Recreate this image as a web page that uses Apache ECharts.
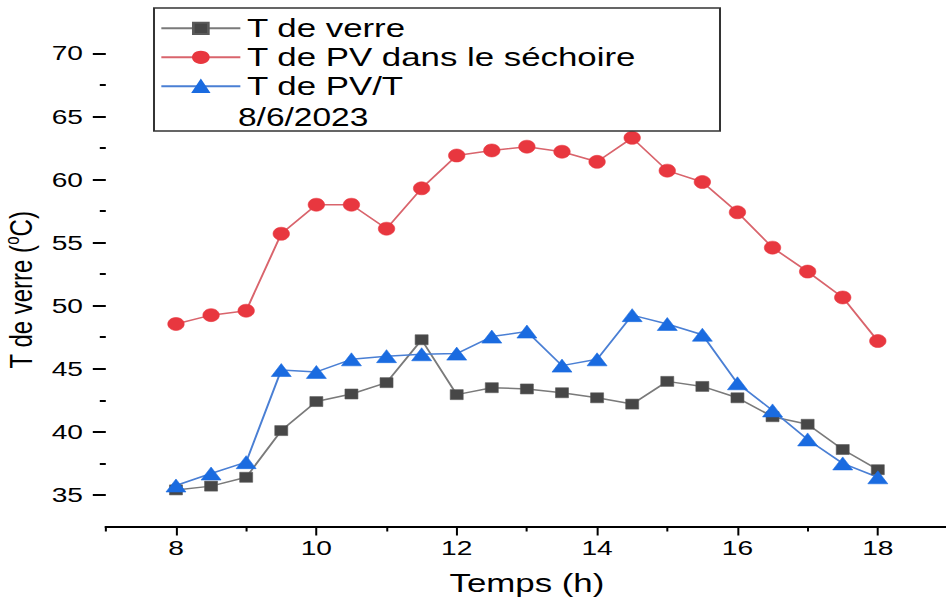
<!DOCTYPE html>
<html>
<head>
<meta charset="utf-8">
<script src="https://cdn.jsdelivr.net/npm/echarts@6/dist/echarts.min.js"></script>
<style>
html,body{margin:0;padding:0;background:#fff;}
#wrap{width:946px;height:603px;overflow:hidden;position:relative;}
#c{height:603px;transform-origin:0 0;position:absolute;left:0;top:0;}
</style>
</head>
<body>
<div id="wrap"><div id="c"></div></div>
<script>
// ---- data ----
const hours = [8, 8.5, 9, 9.5, 10, 10.5, 11, 11.5, 12, 12.5, 13, 13.5, 14, 14.5, 15, 15.5, 16, 16.5, 17, 17.5, 18];
const tVerre = [35.4, 35.7, 36.4, 40.1, 42.4, 43.0, 43.9, 47.3, 42.95, 43.5, 43.4, 43.1, 42.7, 42.2, 44.0, 43.6, 42.7, 41.2, 40.6, 38.6, 37.0];
const tPV = [48.55, 49.25, 49.6, 55.7, 58.0, 58.0, 56.1, 59.3, 61.9, 62.3, 62.6, 62.2, 61.4, 63.3, 60.7, 59.8, 57.4, 54.6, 52.7, 50.65, 47.2];
const tPVT = [35.75, 36.7, 37.6, 44.9, 44.75, 45.75, 46.0, 46.15, 46.2, 47.55, 47.95, 45.25, 45.75, 49.25, 48.55, 47.7, 43.85, 41.7, 39.4, 37.5, 36.4];
const seriesNames = ['T de verre', 'T de PV dans le séchoire', 'T de PV/T'];
const dateLabel = '8/6/2023';
const xMajor = [8, 10, 12, 14, 16, 18];
const xMinor = [7, 9, 11, 13, 15, 17, 19];
const yMajor = [35, 40, 45, 50, 55, 60, 65, 70];
const yMinor = [37.5, 42.5, 47.5, 52.5, 57.5, 62.5, 67.5];

// ---- layout (horizontal stretch like the reference) ----
const S = 1.34;
const W = 946 / S;
const el = document.getElementById('c');
el.style.width = W + 'px';
el.style.transform = 'scaleX(' + S + ')';
const FF = 'Liberation Sans, Arial, sans-serif';

const chart = echarts.init(el, null, {renderer: 'svg', width: W, height: 603});

function pairs(ys) { return hours.map((h, i) => [h, ys[i]]); }

const option = {
  animation: false,
  backgroundColor: '#fff',
  grid: {left: 105.8 / S, width: 842.2 / S, top: 53.3, height: 473.2, containLabel: false, outerBoundsMode: 'none'},
  legend: {
    orient: 'vertical',
    left: 160 / S,
    top: 13.8,
    padding: 0,
    itemGap: 0,
    itemWidth: 79 / S,
    itemHeight: 14,
    data: seriesNames,
    textStyle: {fontFamily: FF, fontSize: 26, color: '#000', lineHeight: 29}
  },
  graphic: [
    {type: 'rect', z: 100, shape: {x: 154 / S, y: 8, width: (720 - 154) / S, height: 123},
     style: {fill: 'none', stroke: '#333', lineWidth: 1.5}},
    {type: 'text', z: 100, style: {text: dateLabel, x: 238 / S, y: 117, fontFamily: FF, fontSize: 25, fill: '#000', verticalAlign: 'middle'}}
  ],
  xAxis: [
    {
      type: 'value', min: 7, max: 19, position: 'bottom',
      axisLine: {show: true, lineStyle: {color: '#000', width: 2}},
      axisTick: {show: true, length: 9, customValues: xMajor, lineStyle: {color: '#000', width: 1.5}},
      axisLabel: {customValues: xMajor, fontFamily: FF, fontSize: 21, color: '#000', margin: 11},
      splitLine: {show: false},
      name: 'Temps (h)', nameLocation: 'middle', nameGap: 44,
      nameTextStyle: {fontFamily: FF, fontSize: 26, color: '#000'}
    },
    {
      type: 'value', min: 7, max: 19, position: 'bottom',
      axisLine: {show: false},
      axisTick: {show: true, length: 5, customValues: xMinor, lineStyle: {color: '#000', width: 1.5}},
      axisLabel: {show: false},
      splitLine: {show: false}
    }
  ],
  yAxis: [
    {
      type: 'value', min: 32.5, max: 70, position: 'left',
      axisLine: {show: false},
      axisTick: {show: true, length: 13 / S, customValues: yMajor, lineStyle: {color: '#000', width: 2}},
      axisLabel: {customValues: yMajor, fontFamily: FF, fontSize: 21, color: '#000', margin: 17},
      splitLine: {show: false},
      name: '{a|T de verre (}{s|o}{a|C)}', nameLocation: 'middle', nameGap: 46, nameRotate: 90,
      nameTextStyle: {
        fontFamily: FF, fontSize: 24, color: '#000',
        rich: {
          a: {fontFamily: FF, fontSize: 24, color: '#000', lineHeight: 28},
          s: {fontFamily: FF, fontSize: 15, color: '#000', verticalAlign: 'top', lineHeight: 28, padding: [0, 0, 10, 0]}
        }
      }
    },
    {
      type: 'value', min: 32.5, max: 70, position: 'left',
      axisLine: {show: false},
      axisTick: {show: true, length: 6 / S, customValues: yMinor, lineStyle: {color: '#000', width: 2}},
      axisLabel: {show: false},
      splitLine: {show: false}
    }
  ],
  series: [
    {
      name: seriesNames[0], type: 'line', data: pairs(tVerre),
      symbol: 'rect', symbolSize: [13 / S, 10],
      lineStyle: {color: '#7a7a7a', width: 1.5},
      itemStyle: {color: '#474747', borderColor: '#5a5a5a', borderWidth: 0.5}
    },
    {
      name: seriesNames[1], type: 'line', data: pairs(tPV),
      symbol: 'circle', symbolSize: [16.5 / S, 13],
      lineStyle: {color: '#d9646c', width: 1.5},
      itemStyle: {color: '#e8373f', borderColor: '#e8373f', borderWidth: 0.5}
    },
    {
      name: seriesNames[2], type: 'line', data: pairs(tPVT),
      symbol: 'triangle', symbolSize: [20 / S, 13],
      lineStyle: {color: '#4a7fd4', width: 1.5},
      itemStyle: {color: '#1a6be0', borderColor: '#1a6be0', borderWidth: 0.5}
    }
  ]
};
chart.setOption(option);
</script>
</body>
</html>
